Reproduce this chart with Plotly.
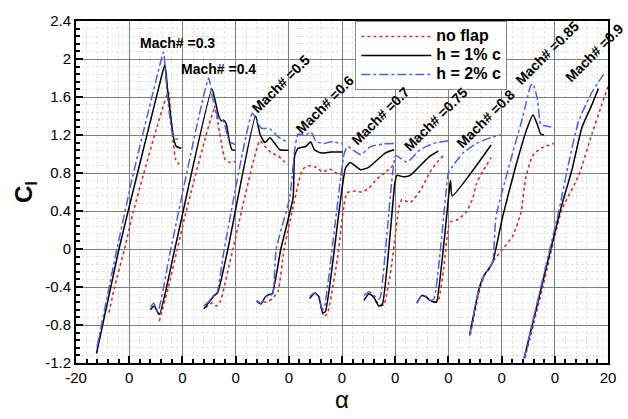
import plotly.graph_objects as go

# Lift coefficient vs angle of attack, one shifted segment per Mach number
MACH_LABELS = ["0.3", "0.4", "0.5", "0.6", "0.7", "0.75", "0.8", "0.85", "0.9"]

# --- no flap (red dotted) ---
NOFLAP_X = [
    [-17.52, -17.10, -16.35, -15.68, -13.05, -12.87, -12.68, -12.50, -12.25],
    [-13.74, -13.05, -12.38, -11.71, -9.57, -9.27, -9.03, -8.78, -8.40, -8.03],
    [-10.27, -9.80, -9.45, -9.15, -8.20, -6.17, -5.80, -5.30, -4.80, -4.43, -4.01],
    [-5.90, -5.55, -5.20, -4.80, -4.35, -3.19, -2.95, -2.57, -1.95, -1.45, -0.95, -0.33, 0.04],
    [-1.60, -1.35, -1.10, -0.34, 0.37, 0.91, 1.53, 2.03, 2.64, 3.20, 3.92],
    [2.50, 2.90, 3.14, 3.70, 4.30, 4.51, 5.12, 5.87, 6.62, 7.24, 7.61],
    [6.90, 7.24, 7.65, 8.11, 8.73, 9.35, 9.85, 10.09, 10.59, 11.21],
    [9.65, 10.40, 10.75, 11.10, 11.34, 12.08, 12.83, 13.45, 13.80, 14.32, 14.94, 15.93],
    [13.75, 15.10, 16.50, 17.80, 18.79, 19.53, 20.03],
]
NOFLAP_Y = [
    [-0.67, -0.40, 0.00, 0.40, 1.65, 1.38, 1.11, 0.94, 0.89],
    [-0.76, -0.40, 0.00, 0.40, 1.48, 1.28, 1.08, 0.94, 0.91, 0.92],
    [-0.62, -0.57, -0.60, -0.55, 0.00, 1.14, 1.08, 1.01, 0.98, 0.93, 0.89],
    [-0.56, -0.55, -0.52, -0.44, 0.00, 0.74, 0.84, 0.876, 0.86, 0.81, 0.843, 0.79, 0.78],
    [-0.60, -0.71, -0.68, -0.10, 0.59, 0.61, 0.60, 0.64, 0.74, 0.80, 0.89],
    [-0.55, -0.58, -0.59, -0.20, 0.45, 0.52, 0.49, 0.61, 0.81, 0.93, 0.98],
    [-0.56, -0.54, -0.20, 0.28, 0.31, 0.39, 0.54, 0.68, 0.82, 0.96],
    [-0.90, -0.40, -0.27, -0.20, -0.135, 0.00, 0.135, 0.38, 0.74, 0.98, 1.06, 1.11],
    [-1.15, -0.40, 0.40, 0.775, 1.21, 1.52, 1.72],
]

# --- h = 1% c (black solid) ---
H1_X = [
    [-18.46, -16.77, -15.48, -13.74, -13.32, -13.12, -12.87, -12.63, -12.45, -12.08],
    [-14.41, -14.12, -13.74, -12.57, -9.78, -9.52, -9.27, -9.07, -8.90, -8.70, -8.48, -8.28, -8.03],
    [-10.39, -10.00, -9.60, -9.35, -8.58, -6.50, -6.17, -5.80, -5.42, -5.05, -4.68, -4.01],
    [-6.42, -6.09, -5.80, -5.50, -5.25, -4.60, -3.68, -3.56, -3.31, -2.70, -2.37, -2.07, -1.58, -0.83, 0.04],
    [-2.43, -2.05, -1.75, -1.45, -1.25, 0.26, 0.61, 1.40, 2.00, 3.25, 3.92],
    [1.65, 2.03, 2.40, 2.77, 3.02, 3.98, 4.13, 4.63, 5.12, 5.87, 6.62, 7.24],
    [5.62, 6.00, 6.37, 6.61, 6.99, 7.11, 8.05, 8.16, 8.28, 11.21],
    [9.59, 10.34, 10.71, 11.08, 11.34, 12.08, 13.07, 13.94, 14.36, 14.69, 14.94, 15.18],
    [13.69, 15.00, 16.40, 17.30, 18.04, 18.79, 19.28],
]
H1_Y = [
    [-1.10, 0.00, 0.74, 1.72, 1.94, 1.685, 1.38, 1.146, 1.08, 1.06],
    [-0.64, -0.60, -0.69, 0.00, 1.685, 1.55, 1.40, 1.35, 1.355, 1.315, 1.146, 1.045, 1.04],
    [-0.63, -0.56, -0.49, -0.46, 0.00, 1.40, 1.21, 1.12, 1.17, 1.11, 1.045, 1.04],
    [-0.55, -0.58, -0.51, -0.48, -0.47, 0.00, 0.54, 0.98, 1.06, 1.08, 1.13, 1.045, 1.01, 1.02, 1.02],
    [-0.52, -0.465, -0.50, -0.67, -0.66, 0.85, 0.91, 0.835, 0.86, 1.01, 1.045],
    [-0.54, -0.47, -0.51, -0.60, -0.59, 0.70, 0.775, 0.76, 0.775, 0.876, 0.977, 1.03],
    [-0.57, -0.49, -0.51, -0.54, -0.56, -0.56, 0.60, 0.72, 0.56, 1.095],
    [-0.91, -0.40, -0.27, -0.20, -0.135, 0.34, 0.876, 1.28, 1.41, 1.31, 1.21, 1.20],
    [-1.15, -0.40, 0.40, 0.84, 1.28, 1.52, 1.69],
]

# --- h = 2% c (blue dash-dot) ---
H2_X = [
    [-18.42, -16.92, -15.78, -13.85, -13.42, -13.20, -13.00, -12.75, -12.55, -12.13],
    [-14.41, -14.15, -13.85, -12.87, -10.02, -9.78, -9.52, -9.30, -9.05, -8.85, -8.60, -8.35, -8.03],
    [-10.39, -10.00, -9.60, -9.40, -8.85, -6.74, -6.29, -6.05, -5.42, -4.80, -4.01],
    [-6.42, -6.09, -5.80, -5.42, -5.20, -4.95, -3.93, -3.55, -3.31, -2.82, -2.32, -1.95, -1.33, -0.83, 0.06],
    [-2.43, -2.05, -1.75, -1.45, -1.30, 0.16, 0.41, 1.40, 2.14, 3.14, 3.92],
    [1.65, 2.05, 2.40, 2.77, 2.90, 3.76, 4.01, 4.13, 4.88, 5.87, 6.87, 7.99],
    [5.62, 6.00, 6.37, 6.61, 6.90, 7.99, 8.10, 9.10, 10.09, 11.33, 11.95],
    [9.59, 10.34, 10.71, 11.08, 11.34, 11.58, 12.83, 13.57, 14.19, 14.36, 14.69, 14.94, 15.18, 15.93],
    [13.69, 14.95, 16.30, 17.05, 17.80, 18.79, 19.83],
]
H2_Y = [
    [-1.03, 0.00, 0.74, 1.85, 2.07, 1.72, 1.45, 1.21, 1.16, 1.16],
    [-0.61, -0.57, -0.66, 0.00, 1.80, 1.62, 1.47, 1.38, 1.37, 1.33, 1.18, 1.12, 1.10],
    [-0.60, -0.55, -0.48, -0.46, 0.00, 1.43, 1.315, 1.27, 1.265, 1.18, 1.12],
    [-0.54, -0.57, -0.51, -0.49, -0.47, 0.00, 0.54, 1.05, 1.21, 1.196, 1.23, 1.13, 1.11, 1.13, 1.106],
    [-0.50, -0.46, -0.52, -0.64, -0.60, 1.00, 1.078, 0.994, 1.078, 1.106, 1.11],
    [-0.49, -0.45, -0.49, -0.53, -0.50, 0.74, 0.98, 0.98, 0.915, 1.045, 1.11, 1.14],
    [-0.57, -0.49, -0.50, -0.54, -0.53, 0.80, 0.83, 1.01, 1.11, 1.18, 1.20],
    [-0.91, -0.40, -0.27, -0.20, -0.135, 0.34, 1.01, 1.38, 1.72, 1.74, 1.58, 1.31, 1.30, 1.28],
    [-1.15, -0.40, 0.40, 0.91, 1.35, 1.65, 1.87],
]

# Mach label anchor points (alpha, Cl) and rotation
LABEL_X = [-12.4, -9.25, -4.62, -1.34, 2.89, 7.05, 10.78, 15.43, 18.96]
LABEL_Y = [2.17, 1.90, 1.74, 1.52, 1.40, 1.37, 1.37, 2.06, 2.06]
LABEL_ANGLE = [0, 0, -45, -45, -45, -45, -45, -45, -45]

X_TICKS = [-20, -16, -12, -8, -4, 0, 4, 8, 12, 16, 20]
X_TICKTEXT = ["-20", "0", "0", "0", "0", "0", "0", "0", "0", "0", "20"]
Y_TICKS = [-1.2, -0.8, -0.4, 0, 0.4, 0.8, 1.2, 1.6, 2, 2.4]
Y_TICKTEXT = ["-1.2", "-0.8", "-0.4", "0", "0.4", "0.8", "1.2", "1.6", "2", "2.4"]

SERIES = [
    ("no flap", NOFLAP_X, NOFLAP_Y, dict(color="#e3262a", width=1.6, dash="dot")),
    ("h = 1% c", H1_X, H1_Y, dict(color="#000000", width=1.5, dash="solid")),
    ("h = 2% c", H2_X, H2_Y, dict(color="#4c5ef2", width=1.5, dash="dashdot")),
]

fig = go.Figure()
for name, xs, ys, line in SERIES:
    for i, (x, y) in enumerate(zip(xs, ys)):
        fig.add_trace(go.Scatter(
            x=x, y=y, mode="lines", line=dict(shape="spline", smoothing=0.5, **line),
            name=f'<span style="font-size:16px"><b>{name}</b></span>',
            legendgroup="curves", showlegend=(i == 0),
        ))

for lbl, lx, ly, ang in zip(MACH_LABELS, LABEL_X, LABEL_Y, LABEL_ANGLE):
    fig.add_annotation(
        x=lx, y=ly, text=f"<b>Mach# ={lbl}</b>", showarrow=False,
        textangle=ang, font=dict(family="Liberation Sans", size=14, color="black"),
    )

axis_common = dict(
    showline=True, linecolor="black", linewidth=2, mirror=True,
    ticks="inside", ticklen=7, tickwidth=1.5, tickcolor="black",
    showgrid=True, gridcolor="#7f7f7f", gridwidth=1,
    zeroline=False,
    tickfont=dict(family="Liberation Sans", size=15, color="black"),
)
minor_grid = dict(ticks="inside", ticklen=4, tickcolor="black",
                  showgrid=True, gridcolor="#e4e4e4", griddash="3px,2px", gridwidth=1)

fig.update_xaxes(
    range=[-20, 20], tickmode="array", tickvals=X_TICKS, ticktext=X_TICKTEXT,
    minor=dict(dtick=0.8, tick0=-20, **minor_grid),
    title=dict(text="α", font=dict(family="Liberation Sans", size=24, color="black"), standoff=4),
    **axis_common,
)
fig.update_yaxes(
    range=[-1.2, 2.4], tickmode="array", tickvals=Y_TICKS, ticktext=Y_TICKTEXT,
    minor=dict(dtick=0.08, tick0=-1.2, **minor_grid),
    title=dict(text="<b>C<sub>l</sub></b>", font=dict(family="Liberation Sans", size=24, color="black"), standoff=6),
    **axis_common,
)

fig.update_layout(
    width=628, height=419,
    margin=dict(l=76, r=15, t=16, b=47),
    paper_bgcolor="white", plot_bgcolor="white",
    legend=dict(
        x=0.525, y=1.0, xanchor="left", yanchor="top",
        bgcolor="white", bordercolor="#888888", borderwidth=1,
        font=dict(family="Liberation Sans", size=12, color="black"),
        itemwidth=70, tracegroupgap=0,
    ),
)

fig.write_html("out.html")
